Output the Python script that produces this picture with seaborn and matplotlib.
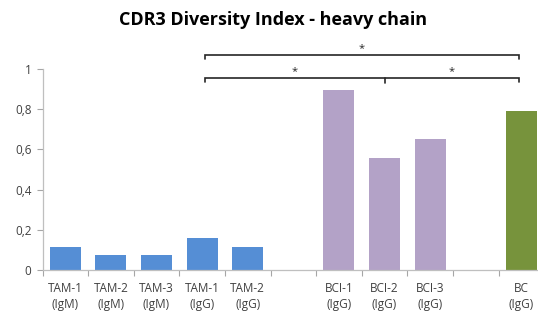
import numpy as np
import matplotlib
matplotlib.use("Agg")
import matplotlib.pyplot as plt
import seaborn as sns

categories = ["TAM-1\n(IgM)", "TAM-2\n(IgM)", "TAM-3\n(IgM)", "TAM-1\n(IgG)", "TAM-2\n(IgG)",
              "gap1", "BCI-1\n(IgG)", "BCI-2\n(IgG)", "BCI-3\n(IgG)", "gap2", "BC\n(IgG)"]
tick_labels = ["TAM-1\n(IgM)", "TAM-2\n(IgM)", "TAM-3\n(IgM)", "TAM-1\n(IgG)", "TAM-2\n(IgG)",
               "", "BCI-1\n(IgG)", "BCI-2\n(IgG)", "BCI-3\n(IgG)", "", "BC\n(IgG)"]
values = [0.115, 0.075, 0.075, 0.16, 0.115, 0.0, 0.897, 0.557, 0.653, 0.0, 0.79]
colors = ["#558ed5"] * 5 + ["#ffffff"] + ["#b3a2c7"] * 3 + ["#ffffff"] + ["#77933c"]
yticks = [0, 0.2, 0.4, 0.6, 0.8, 1.0]
ytick_labels = ["0", "0,2", "0,4", "0,6", "0,8", "1"]

sns.set_theme(style="white")
plt.rcParams['font.family'] = ['Open Sans', 'DejaVu Sans']

fig = plt.figure(figsize=(5.38, 3.14), dpi=100)
ax = fig.add_axes([42.5/538, (314-270)/314, 501.6/538, 201/314])

sns.barplot(x=categories, y=values, hue=categories, palette=colors, order=categories,
            hue_order=categories, width=0.68, linewidth=0, saturation=1, legend=False, ax=ax)

ax.set_xlim(-0.5, len(categories) - 0.5)
ax.set_ylim(0, 1)
ax.set_yticks(yticks)
ax.set_yticklabels(ytick_labels, fontsize=8.5, color="#404040")
ax.set_xticks(np.arange(-0.5, len(categories), 1.0))
ax.set_xticklabels([])
ax.set_xticks(np.arange(len(categories)), minor=True)
ax.set_xticklabels(tick_labels, minor=True, fontsize=8.5, color="#404040", linespacing=1.25)
ax.tick_params(axis='x', which='major', length=4, width=0.8, color="#a6a6a6", direction='out', bottom=True)
ax.tick_params(axis='x', which='minor', length=0, pad=9)
ax.tick_params(axis='y', length=4, width=0.8, color="#a6a6a6", direction='out', left=True, pad=4)
ax.set_xlabel("")
ax.set_ylabel("")
for s in ["top", "right"]:
    ax.spines[s].set_visible(False)
for s in ["left", "bottom"]:
    ax.spines[s].set_color("#bfbfbf")
    ax.spines[s].set_linewidth(0.9)

# significance brackets
def bracket(x0, x1, y, mids=()):
    ax.plot([x0, x0, x1, x1], [y - 0.02, y, y, y - 0.02], color="#262626", lw=1.2,
            clip_on=False, solid_joinstyle='miter')
    for m in mids:
        ax.plot([m, m], [y, y - 0.025], color="#262626", lw=1.2, clip_on=False)

bracket(3.06, 9.94, 1.07)
bracket(3.06, 9.94, 0.955, mids=[7.0])
ax.text((3.06 + 9.94) / 2, 1.1, "*", ha="center", va="center", fontsize=8, color="#262626")
ax.text((3.06 + 7.0) / 2, 0.985, "*", ha="center", va="center", fontsize=8, color="#262626")
ax.text((7.0 + 9.94) / 2, 0.985, "*", ha="center", va="center", fontsize=8, color="#262626")

fig.text(273/538, 1 - 20/314, "CDR3 Diversity Index - heavy chain", ha="center", va="center",
         fontsize=13, fontweight="bold", color="#000000")

fig.savefig("out.png", dpi=100)
